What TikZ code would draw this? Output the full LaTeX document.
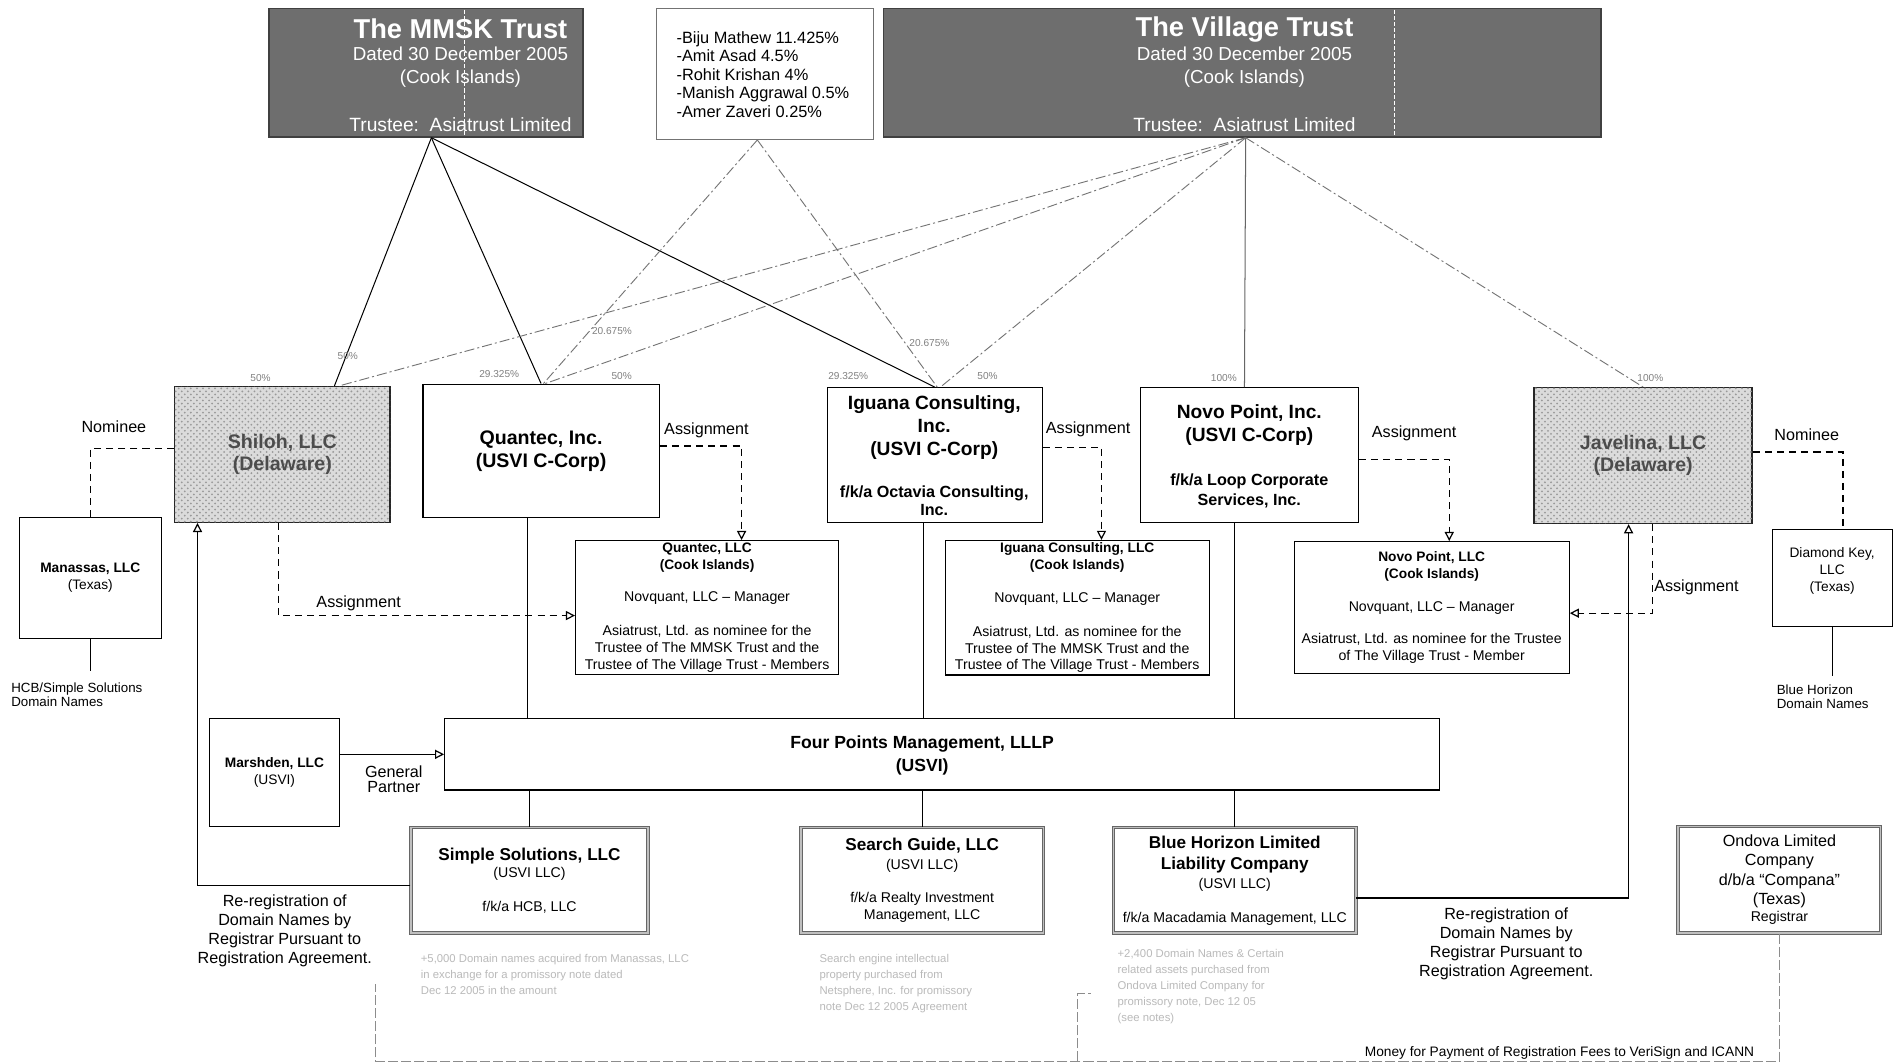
\documentclass[tikz,border=0pt]{standalone}
\usepackage{fontspec}
\setmainfont{Liberation Sans}
\usetikzlibrary{arrows.meta,calc,patterns}
\newcommand{\fz}[2]{\fontsize{#1}{#2}\selectfont}
\newcommand{\bx}[7]{\node[#6, minimum width={(#4-#2)*0.6pt}, minimum height={(#5-#3)*0.6pt}] (#1) at ({(#2+#4)/2},{(#3+#5)/2}) {#7};}
\begin{document}
\begin{tikzpicture}[x=0.6pt,y=-0.6pt,
  box/.style={draw=black, line width=0.6pt, fill=white, inner sep=1pt, align=center},
  trust/.style={draw=black!75, line width=0.8pt, fill=black!57, inner sep=0pt},
  stip/.style={draw=black!85, line width=0.7pt, fill=black!14, postaction={pattern=crosshatch dots, pattern color=black!40}, inner sep=0pt, align=center},
  dbl/.style={draw=black!60, line width=0.5pt, double=black!25, double distance=0.8pt, fill=white, inner sep=1pt, align=center},
  lbl/.style={inner sep=0pt, align=center, font=\fz{8}{9.4}},
  pct/.style={inner sep=0pt, font=\fz{5}{6}, text=black!50},
  own/.style={line width=0.5pt},
  ownd/.style={line width=0.45pt, draw=black!55, dash pattern=on 5pt off 1.5pt on 1pt off 1.5pt},
  dsh/.style={line width=0.6pt, dash pattern=on 3.5pt off 2.5pt},
  conn/.style={line width=0.6pt},
  arrw/.style={-{Triangle[open,length=4.5pt,width=4.5pt]}},
  faint/.style={inner sep=0pt, align=left, font=\fz{5.6}{7.9}, text=black!27},
  brk/.style={draw=black!45, line width=0.5pt, dash pattern=on 5pt off 1.5pt}
]
\useasboundingbox (0,0) rectangle (1568,878);
\fill[white] (0,0) rectangle (1568,878);

% ---------- top row ----------
\bx{mmsk}{222}{7}{481}{113}{trust}{}
\bx{list}{542}{7}{721}{115}{box, draw=black!55}{}
\bx{village}{729}{7}{1321}{113}{trust}{}
\draw[white, line width=0.5pt, dash pattern=on 2pt off 1pt] (383,8) -- (383,112);
\draw[white, line width=0.5pt, dash pattern=on 2pt off 1pt] (1151,8) -- (1151,112);

\node[font=\fz{13.5}{16}\bfseries, text=white, inner sep=0] (mmskT) at (380,24) {The MMSK Trust};
\node[font=\fz{9.3}{11.4}, text=white, align=center, inner sep=0] (mmskD) at (380,55.5) {Dated 30 December 2005\\(Cook Islands)};
\node[font=\fz{9.5}{11}, text=white, inner sep=0] (mmskTr) at (380,103) {Trustee:\ \ Asiatrust Limited};

\node[font=\fz{13.5}{16}\bfseries, text=white, inner sep=0] (vilT) at (1027,24) {The Village Trust};
\node[font=\fz{9.3}{11.4}, text=white, align=center, inner sep=0] (vilD) at (1027,55.5) {Dated 30 December 2005\\(Cook Islands)};
\node[font=\fz{9.5}{11}, text=white, inner sep=0] (vilTr) at (1027,103) {Trustee:\ \ Asiatrust Limited};

\node[font=\fz{8.1}{9.15}, align=left, anchor=west, inner sep=0] (listT) at (558,61.5) {-Biju Mathew 11.425\%\\-Amit Asad 4.5\%\\-Rohit Krishan 4\%\\-Manish Aggrawal 0.5\%\\-Amer Zaveri 0.25\%};

% ---------- middle row ----------
\bx{shiloh}{144}{319}{322}{431}{stip, font=\fz{9.7}{10.8}\bfseries, text=black!70}{Shiloh, LLC\\(Delaware)}
\bx{quantec}{349}{317}{544}{427}{box, font=\fz{9.7}{11.4}\bfseries}{Quantec, Inc.\\(USVI C-Corp)}
\bx{iguana}{683}{320}{860}{431}{box}{}
\node[font=\fz{9.5}{11.4}\bfseries, align=center, inner sep=0] (iguanaT) at (771,353) {Iguana Consulting,\\Inc.\\(USVI C-Corp)};
\node[font=\fz{8}{9}\bfseries, align=center, inner sep=0] (iguanaF) at (771,413.5) {f/k/a Octavia Consulting,\\Inc.};
\bx{novo}{941}{320}{1121}{431}{box}{}
\node[font=\fz{9.5}{11.4}\bfseries, align=center, inner sep=0] (novoT) at (1031,350.5) {Novo Point, Inc.\\(USVI C-Corp)};
\node[font=\fz{8}{9.6}\bfseries, align=center, inner sep=0] (novoF) at (1031,405) {f/k/a Loop Corporate\\Services, Inc.};
\bx{javelina}{1266}{320}{1446}{432}{stip, font=\fz{9.7}{10.8}\bfseries, text=black!70}{Javelina, LLC\\(Delaware)}

% ---------- ownership lines ----------
\coordinate (mo) at ([xshift=2.7pt]mmsk.south);
\coordinate (lo) at ([xshift=-3.9pt]list.south);
\coordinate (vo) at ([xshift=1.8pt]village.south);
\draw[own] (mo) -- ([xshift=25.8pt]shiloh.north);
\draw[own] (mo) -- (quantec.north);
\draw[own] (mo) -- (iguana.north);
\draw[ownd] (lo) -- ([xshift=1.2pt]quantec.north);
\draw[ownd] (lo) -- ([xshift=1.2pt]iguana.north);
\draw[ownd] (vo) -- ([xshift=28.2pt]shiloh.north);
\draw[ownd] (vo) -- ([xshift=2.1pt]quantec.north);
\draw[ownd] (vo) -- ([xshift=2.7pt]iguana.north);
\draw[own, draw=black!60] (vo) -- ([xshift=-2.4pt]novo.north);
\draw[ownd] (vo) -- (javelina.north);

\node[pct] (p1) at (215,312) {50\%};
\node[pct] (p2) at (287,294) {50\%};
\node[pct] (p3) at (412,309) {29.325\%};
\node[pct] (p4) at (513,310) {50\%};
\node[pct] (p5) at (505,273) {20.675\%};
\node[pct] (p6) at (700,310) {29.325\%};
\node[pct] (p7) at (815,310) {50\%};
\node[pct] (p8) at (767,283) {20.675\%};
\node[pct] (p9) at (1010,312) {100\%};
\node[pct] (p10) at (1362,312) {100\%};

% ---------- Cook Islands LLCs ----------
\bx{qllc}{475}{447}{692}{556}{box, font=\fz{7}{8.4}}{{\bfseries\fz{6.8}{8.4}Quantec, LLC}\\{\bfseries\fz{6.8}{8.4}(Cook Islands)}\\[7.8pt]Novquant, LLC -- Manager\\[8.4pt]Asiatrust, Ltd. as nominee for the\\Trustee of The MMSK Trust and the\\Trustee of The Village Trust - Members}
\bx{illc}{780}{447}{998}{556}{box, font=\fz{7}{8.4}}{{\bfseries\fz{6.8}{8.4}Iguana Consulting, LLC}\\{\bfseries\fz{6.8}{8.4}(Cook Islands)}\\[7.8pt]Novquant, LLC -- Manager\\[8.4pt]Asiatrust, Ltd. as nominee for the\\Trustee of The MMSK Trust and the\\Trustee of The Village Trust - Members}
\bx{nllc}{1068}{447}{1295}{556}{box, font=\fz{7}{8.4}}{{\bfseries\fz{6.8}{8.4}Novo Point, LLC}\\{\bfseries\fz{6.8}{8.4}(Cook Islands)}\\[7.8pt]Novquant, LLC -- Manager\\[7.8pt]Asiatrust, Ltd. as nominee for the Trustee\\of The Village Trust - Member}

% ---------- assignments ----------
\draw[dsh, arrw] ([yshift=2.4pt]quantec.east) -| ([xshift=17.1pt]qllc.north);
\node[lbl] (a1) at (583,355) {Assignment};
\draw[dsh, arrw] ([yshift=3.9pt]iguana.east) -| ([xshift=12pt]illc.north);
\node[lbl] (a2) at (898,354) {Assignment};
\draw[dsh, arrw] ([yshift=-2.1pt]novo.east) -| ([xshift=8.7pt]nllc.north);
\node[lbl] (a3) at (1167,358) {Assignment};
\draw[dsh, arrw] ([xshift=-1.8pt]shiloh.south) |- ([yshift=-3.9pt]qllc.west);
\node[lbl] (a4) at (296,498) {Assignment};
\draw[dsh, arrw] ([xshift=4.8pt]javelina.south) |- ([yshift=-2.7pt]nllc.east);
\node[lbl] (a5) at (1400,485) {Assignment};

% ---------- nominees ----------
\bx{manassas}{16}{427}{133}{527}{box, font=\fz{6.8}{8.4}}{{\bfseries Manassas, LLC}\\(Texas)}
\bx{dkey}{1463}{437}{1562}{517}{box}{}
\node[font=\fz{6.8}{8.4}, align=center, inner sep=0] (dkeyT) at (1512,471) {Diamond Key,\\LLC\\(Texas)};
\draw[dsh] ([yshift=3pt]shiloh.west) -| (manassas.north);
\node[lbl] (n1) at (94,352) {Nominee};
\draw[dsh] ([yshift=1.8pt]javelina.east) -| ([xshift=5.1pt]dkey.north);
\node[lbl] (n2) at (1491,359) {Nominee};

\node[anchor=west, font=\fz{6.6}{6.9}, align=left, inner sep=0] (hcb) at (9,573.5) {HCB/Simple Solutions\\Domain Names};
\node[anchor=west, font=\fz{6.6}{6.9}, align=left, inner sep=0] (bhdn) at (1466,575) {Blue Horizon\\Domain Names};
\coordinate (hcbtop) at (manassas.south |- 0,554);
\coordinate (bhdntop) at (dkey.south |- 0,558);
\draw[conn] (manassas.south) -- (hcbtop);
\draw[conn] (dkey.south) -- (bhdntop);

% ---------- Four Points ----------
\bx{fourpts}{367}{593}{1188}{652}{box}{}
\node[font=\fz{8.7}{11.4}\bfseries, align=center, inner sep=0] (fourptsT) at (761,623.5) {Four Points Management, LLLP\\(USVI)};
\coordinate (qd) at ([xshift=-6.9pt]quantec.south);
\coordinate (id) at ([xshift=-5.7pt]iguana.south);
\coordinate (nd) at ([xshift=-7.2pt]novo.south);
\draw[conn] (qd) -- (qd |- fourpts.north);
\draw[conn] (id) -- (id |- fourpts.north);
\draw[conn] (nd) -- (nd |- fourpts.north);

\bx{marshden}{173}{593}{280}{682}{box, font=\fz{6.8}{8.4}}{{\bfseries Marshden, LLC}\\(USVI)}
\draw[conn, arrw] (marshden.east |- fourpts.west) -- (fourpts.west);
\node[lbl, font=\fz{8}{7.8}] (gp) at (325,643) {General\\Partner};

% ---------- bottom row ----------
\bx{ss}{339}{683}{535}{770}{dbl, font=\fz{7}{8.4}}{{\bfseries\fz{8.5}{8.4}Simple Solutions, LLC}\\(USVI LLC)\\[8.4pt]f/k/a HCB, LLC}
\bx{sg}{661}{683}{861}{770}{dbl, font=\fz{7}{8.4}}{{\bfseries\fz{8.5}{8.4}Search Guide, LLC}\\[1.2pt](USVI LLC)\\[7.8pt]f/k/a Realty Investment\\Management, LLC}
\bx{bh}{919}{683}{1119}{770}{dbl, font=\fz{7}{8.4}}{{\bfseries\fz{8.5}{8.4}Blue Horizon Limited}\\[2.4pt]{\bfseries\fz{8.5}{8.4}Liability Company}\\[0.6pt](USVI LLC)\\[8.4pt]f/k/a Macadamia Management, LLC}
\bx{ondova}{1385}{682}{1552}{770}{dbl, font=\fz{8}{9.6}}{Ondova Limited\\Company\\d/b/a “Compana”\\(Texas)\\[-1.2pt]{\fz{7}{9.6}Registrar}}

\draw[conn] (ss.north |- fourpts.south) -- (ss.north);
\draw[conn] (sg.north |- fourpts.south) -- (sg.north);
\draw[conn] (bh.north |- fourpts.south) -- (bh.north);

% ---------- re-registration ----------
\coordinate (ssw) at ([yshift=-2.7pt]ss.west);
\coordinate (shb) at ([xshift=-42pt]shiloh.south);
\draw[conn, arrw] (ssw) -| (shb);
\node[lbl] (rr1) at (235,768.5) {Re-registration of\\Domain Names by\\Registrar Pursuant to\\Registration Agreement.};
\coordinate (bhe) at ([yshift=-8.7pt]bh.east);
\coordinate (jvb) at ([xshift=-7.2pt]javelina.south);
\draw[conn, arrw] (bhe) -| (jvb);
\node[lbl] (rr2) at (1243,778.5) {Re-registration of\\Domain Names by\\Registrar Pursuant to\\Registration Agreement.};

% ---------- faint notes ----------
\node[faint, anchor=north west] (ssnote) at (347,787) {+5,000 Domain names acquired from Manassas, LLC\\in exchange for a promissory note dated\\Dec 12 2005 in the amount};
\node[faint, anchor=north west] (sgnote) at (676,787) {Search engine intellectual\\property purchased from\\Netsphere, Inc. for promissory\\note Dec 12 2005 Agreement};
\node[faint, anchor=north west] (bhnote) at (922,783) {+2,400 Domain Names \& Certain\\related assets purchased from\\Ondova Limited Company for\\promissory note, Dec 12 05\\(see notes)};

% ---------- payment bracket ----------
\coordinate (b1) at (310,812);
\coordinate (b2) at (310,876);
\coordinate (b3) at (889,876);
\coordinate (b4) at (889,820);
\coordinate (b5) at (900,820);
\coordinate (ob) at (ondova.south |- b2);
\draw[brk] (ondova.south) -- (ob) -- (b2) -- (b1);
\draw[brk] (b3) -- (b4) -- (b5);
\node[font=\fz{6.8}{8}, inner sep=0] (money) at (1287,869) {Money for Payment of Registration Fees to VeriSign and ICANN};
\end{tikzpicture}
\end{document}
